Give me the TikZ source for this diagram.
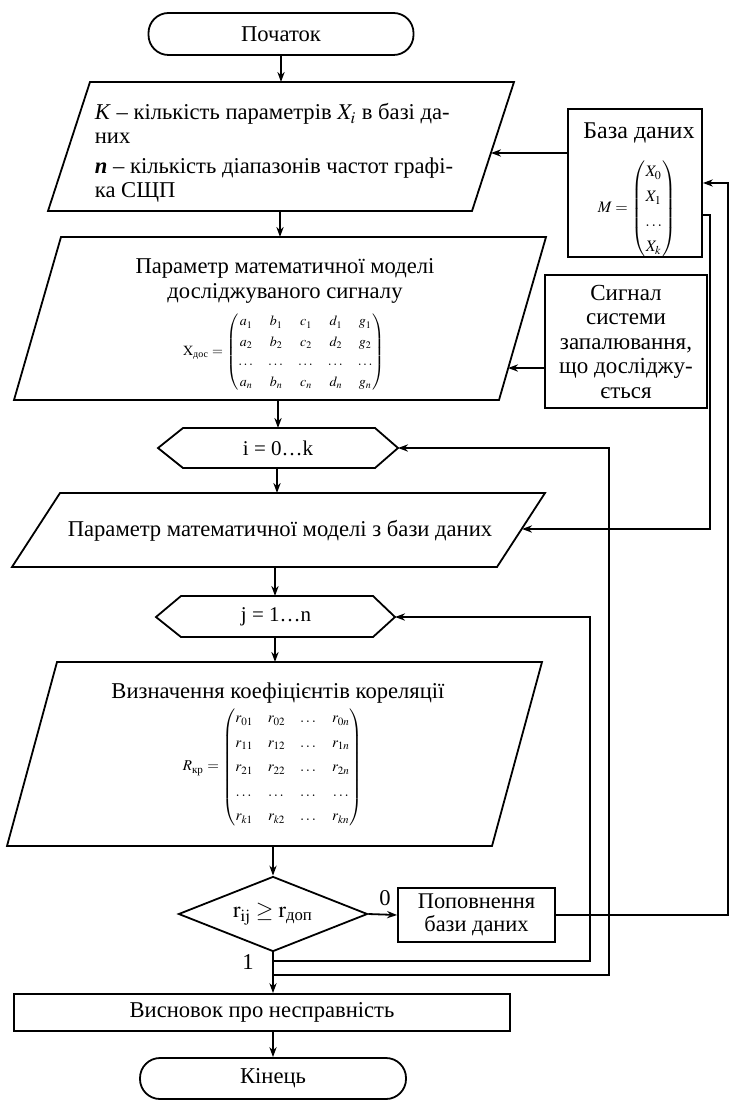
\documentclass[tikz,border=0pt]{standalone}
\usepackage{amsmath}
\usepackage{mathptmx}
\usepackage{fontspec}
\setmainfont{Liberation Serif}
\usetikzlibrary{arrows.meta,shapes.geometric}
\tikzset{
  arr/.style={-{Stealth[length=5pt,width=3.6pt]}},
  box/.style={draw, rectangle, inner sep=0pt},
  term/.style={draw, rounded corners=10pt, inner sep=0pt},
  txt/.style={inner sep=0pt, font=\fontsize{11.3}{11.8}\selectfont},
  hextxt/.style={inner sep=0pt, font=\fontsize{10.5}{11.8}\selectfont},
  bigtxt/.style={inner sep=0pt, font=\fontsize{11.5}{12.25}\selectfont, align=center},
}
\begin{document}
\begin{tikzpicture}[x=0.5pt,y=-0.5pt,line width=0.9pt,
  every node/.style={font=\fontsize{11.3}{11.8}\selectfont}]
\useasboundingbox (0,0) rectangle (731,1101);

% --- start
\node[term, minimum width=132.5pt, minimum height=21pt] (start) at (281,34) {Початок};

% --- parallelogram 1
\coordinate (p1tl) at (90,82);  \coordinate (p1tr) at (514,82);
\coordinate (p1br) at (472,211); \coordinate (p1bl) at (48,211);
\draw (p1tl) -- (p1tr) -- (p1br) -- (p1bl) -- cycle;
\coordinate (p1n) at (281,82); \coordinate (p1s) at (280,211);
\coordinate (p1in) at (491,153);
\node[txt, anchor=west, align=left] (p1t) at (94,153)
  {\textit{K} – кількість параметрів $X_i$ в базі да-\\
   них\\[3.5pt]
   \textbf{\textit{n}} – кількість діапазонів частот графі-\\
   ка СЩП};

% --- parallelogram 2
\coordinate (p2tl) at (61,237);  \coordinate (p2tr) at (546,237);
\coordinate (p2br) at (499,400); \coordinate (p2bl) at (14,400);
\draw (p2tl) -- (p2tr) -- (p2br) -- (p2bl) -- cycle;
\coordinate (p2n) at (280,237); \coordinate (p2s) at (278,400);
\coordinate (p2in) at (508,368);
\node[txt, align=center, font=\fontsize{11.3}{12.5}\selectfont] (p2t) at (285,281)
  {Параметр математичної моделі\\досліджуваного сигналу};
\node[inner sep=0pt, font=\fontsize{7}{10}\selectfont] (p2m) at (284,352)
  {\setlength{\arraycolsep}{3.4pt}$\mathrm{X}_{\text{дос}} = \begin{pmatrix}
     a_1 & b_1 & c_1 & d_1 & g_1\\
     a_2 & b_2 & c_2 & d_2 & g_2\\
     \dots & \dots & \dots & \dots & \dots\\
     a_n & b_n & c_n & d_n & g_n
   \end{pmatrix}$};

% --- hexagon i
\coordinate (hil) at (158,448); \coordinate (hitl) at (183,428);
\coordinate (hitr) at (375,428); \coordinate (hir) at (398,448);
\coordinate (hibr) at (375,468); \coordinate (hibl) at (183,468);
\draw (hil) -- (hitl) -- (hitr) -- (hir) -- (hibr) -- (hibl) -- cycle;
\coordinate (hin) at (278,428); \coordinate (his) at (277,468);
\node[hextxt] (hit) at (278,448) {i = 0…k};

% --- parallelogram 3
\coordinate (p3tl) at (60,493);  \coordinate (p3tr) at (545,493);
\coordinate (p3br) at (497,567); \coordinate (p3bl) at (12,567);
\draw (p3tl) -- (p3tr) -- (p3br) -- (p3bl) -- cycle;
\coordinate (p3n) at (277,493); \coordinate (p3s) at (275,567);
\coordinate (p3in) at (522,529);
\node[txt] (p3t) at (280,531) {Параметр математичної моделі з бази даних};

% --- hexagon j
\coordinate (hjl) at (156,617); \coordinate (hjtl) at (181,596);
\coordinate (hjtr) at (373,596); \coordinate (hjr) at (395,617);
\coordinate (hjbr) at (373,637); \coordinate (hjbl) at (181,637);
\draw (hjl) -- (hjtl) -- (hjtr) -- (hjr) -- (hjbr) -- (hjbl) -- cycle;
\coordinate (hjn) at (275,596); \coordinate (hjs) at (275,637);
\node[hextxt] (hjt) at (276,617) {j = 1…n};

% --- parallelogram 4
\coordinate (p4tl) at (57,662);  \coordinate (p4tr) at (542,662);
\coordinate (p4br) at (492,846); \coordinate (p4bl) at (7,846);
\draw (p4tl) -- (p4tr) -- (p4br) -- (p4bl) -- cycle;
\coordinate (p4n) at (275,662); \coordinate (p4s) at (273,846);
\node[txt] (p4t) at (278,693) {Визначення коефіцієнтів кореляції};
\node[inner sep=0pt, font=\fontsize{7.5}{12.25}\selectfont] (p4m) at (273,767)
  {\setlength{\arraycolsep}{3.6pt}$R_{\text{кр}} = \begin{pmatrix}
     r_{01} & r_{02} & \dots & r_{0n}\\
     r_{11} & r_{12} & \dots & r_{1n}\\
     r_{21} & r_{22} & \dots & r_{2n}\\
     \dots & \dots & \dots & \dots\\
     r_{k1} & r_{k2} & \dots & r_{kn}
   \end{pmatrix}$};

% --- decision
\node[draw, diamond, aspect=2.5, inner sep=0pt, minimum width=94.5pt, minimum height=37.5pt] (dec) at (273,914)
  {$\mathrm{r}_{\mathrm{ij}} \geq \mathrm{r}_{\text{доп}}$};
\node[txt] (lab0) at (385,898) {0};
\node[txt] (lab1) at (248,962) {1};

% --- replenish
\node[box, minimum width=78.5pt, minimum height=27pt, align=center, font=\fontsize{11.2}{11.5}\selectfont] (pop) at (476.5,915)
  {Поповнення\\бази даних};

% --- conclusion / end
\node[box, minimum width=248pt, minimum height=18.5pt] (vys) at (262,1012.5) {Висновок про несправність};
\node[term, minimum width=133pt, minimum height=20.5pt] (fin) at (273,1078.5) {Кінець};

% --- database
\node[box, minimum width=67pt, minimum height=74pt] (db) at (635,183) {};
\node[inner sep=0pt, font=\fontsize{12}{12}\selectfont] (dbt) at (639,133) {База даних};
\node[inner sep=0pt, font=\fontsize{8}{12.5}\selectfont] (dbm) at (637,209)
  {$M = \begin{pmatrix} X_0\\ X_1\\ \dots\\ X_k \end{pmatrix}$};

% --- signal
\node[box, bigtxt, minimum width=81pt, minimum height=66.5pt] (sig) at (626,341.5)
  {Сигнал\\системи\\запалювання,\\що досліджу-\\ється};

% --- main flow
\draw[arr] (start) -- (p1n);
\draw[arr] (p1s) -- (p2n);
\draw[arr] (p2s) -- (hin);
\draw[arr] (his) -- (p3n);
\draw[arr] (p3s) -- (hjn);
\draw[arr] (hjs) -- (p4n);
\draw[arr] (p4s) -- (dec.north);
\draw[arr] (dec.south) -- (vys.north -| dec.south);
\draw[arr] (vys.south -| fin.north) -- (fin.north);
\draw[arr] (dec.east) -- (pop.west);

% --- side connections
\coordinate (rr) at (728,183);
\coordinate (dbout) at (710,215);
\coordinate (jloop) at (590,961);
\coordinate (iloop) at (609,975);
\draw[arr] (pop.east) -| (rr) -- (db.east);
\draw[arr] (db.west |- p1in) -- (p1in);
\draw[arr] (db.east |- dbout) -- (dbout) |- (p3in);
\draw[arr] (sig.west |- p2in) -- (p2in);
\draw[arr] (dec.south |- jloop) -- (jloop) |- (hjr);
\draw[arr] (dec.south |- iloop) -- (iloop) |- (hir);
\end{tikzpicture}
\end{document}
